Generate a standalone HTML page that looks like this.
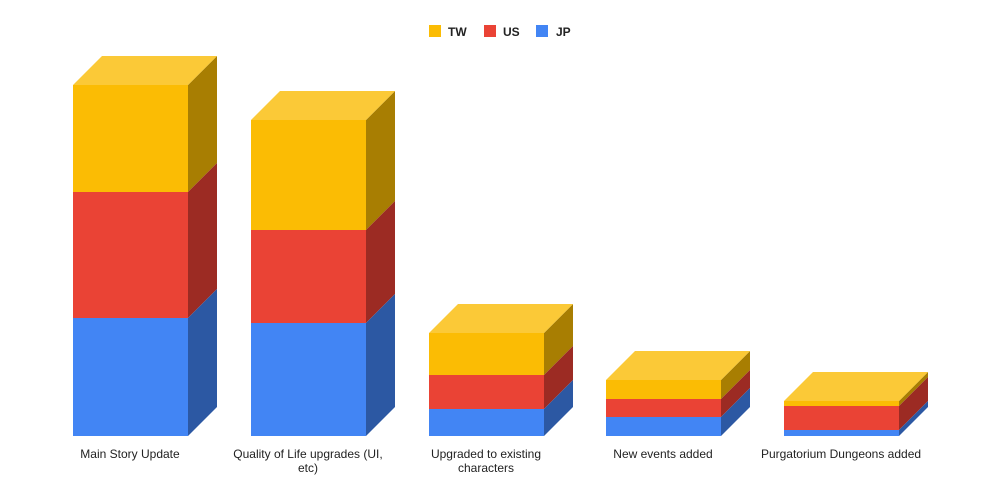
<!DOCTYPE html>
<html><head><meta charset="utf-8"><style>
body{margin:0;background:#fff;}
svg{display:block;font-family:"Liberation Sans",Arial,sans-serif;}
</style></head><body>
<svg width="1000" height="500" viewBox="0 0 1000 500">
<rect width="1000" height="500" fill="#fff"/>
<g font-size="12" font-weight="bold" fill="#222">
<rect x="429" y="25" width="12" height="12" fill="#fbbc04"/><text x="448" y="36">TW</text>
<rect x="484" y="25" width="12" height="12" fill="#ea4335"/><text x="503" y="36">US</text>
<rect x="536" y="25" width="12" height="12" fill="#4285f4"/><text x="556" y="36">JP</text>
</g>
<!-- Bar 1 -->
<rect x="73" y="85" width="115" height="107" fill="#fbbc04"/>
<rect x="73" y="192" width="115" height="126" fill="#ea4335"/>
<rect x="73" y="318" width="115" height="118" fill="#4285f4"/>
<polygon points="188,85 217,56 217,163 188,192" fill="#a87e02"/>
<polygon points="188,192 217,163 217,289 188,318" fill="#9c2b23"/>
<polygon points="188,318 217,289 217,407 188,436" fill="#2c58a3"/>
<polygon points="73,85 102,56 217,56 188,85" fill="#fbc937"/>
<!-- Bar 2 -->
<rect x="251" y="120" width="115" height="110" fill="#fbbc04"/>
<rect x="251" y="230" width="115" height="93" fill="#ea4335"/>
<rect x="251" y="323" width="115" height="113" fill="#4285f4"/>
<polygon points="366,120 395,91 395,201 366,230" fill="#a87e02"/>
<polygon points="366,230 395,201 395,294 366,323" fill="#9c2b23"/>
<polygon points="366,323 395,294 395,407 366,436" fill="#2c58a3"/>
<polygon points="251,120 280,91 395,91 366,120" fill="#fbc937"/>
<!-- Bar 3 -->
<rect x="429" y="333" width="115" height="42" fill="#fbbc04"/>
<rect x="429" y="375" width="115" height="34" fill="#ea4335"/>
<rect x="429" y="409" width="115" height="27" fill="#4285f4"/>
<polygon points="544,333 573,304 573,346 544,375" fill="#a87e02"/>
<polygon points="544,375 573,346 573,380 544,409" fill="#9c2b23"/>
<polygon points="544,409 573,380 573,407 544,436" fill="#2c58a3"/>
<polygon points="429,333 458,304 573,304 544,333" fill="#fbc937"/>
<!-- Bar 4 -->
<rect x="606" y="380" width="115" height="19" fill="#fbbc04"/>
<rect x="606" y="399" width="115" height="18" fill="#ea4335"/>
<rect x="606" y="417" width="115" height="19" fill="#4285f4"/>
<polygon points="721,380 750,351 750,370 721,399" fill="#a87e02"/>
<polygon points="721,399 750,370 750,388 721,417" fill="#9c2b23"/>
<polygon points="721,417 750,388 750,407 721,436" fill="#2c58a3"/>
<polygon points="606,380 635,351 750,351 721,380" fill="#fbc937"/>
<!-- Bar 5 -->
<rect x="784" y="401" width="115" height="5" fill="#fbbc04"/>
<rect x="784" y="406" width="115" height="24" fill="#ea4335"/>
<rect x="784" y="430" width="115" height="6" fill="#4285f4"/>
<polygon points="899,401 928,372 928,377 899,406" fill="#a87e02"/>
<polygon points="899,406 928,377 928,401 899,430" fill="#9c2b23"/>
<polygon points="899,430 928,401 928,407 899,436" fill="#2c58a3"/>
<polygon points="784,401 813,372 928,372 899,401" fill="#fbc937"/>
<g font-size="12" fill="#222" text-anchor="middle">
<text x="130" y="458">Main Story Update</text>
<text x="308" y="458">Quality of Life upgrades (UI,</text>
<text x="308" y="472">etc)</text>
<text x="486" y="458">Upgraded to existing</text>
<text x="486" y="472">characters</text>
<text x="663" y="458">New events added</text>
<text x="841" y="458">Purgatorium Dungeons added</text>
</g>
</svg>
</body></html>
